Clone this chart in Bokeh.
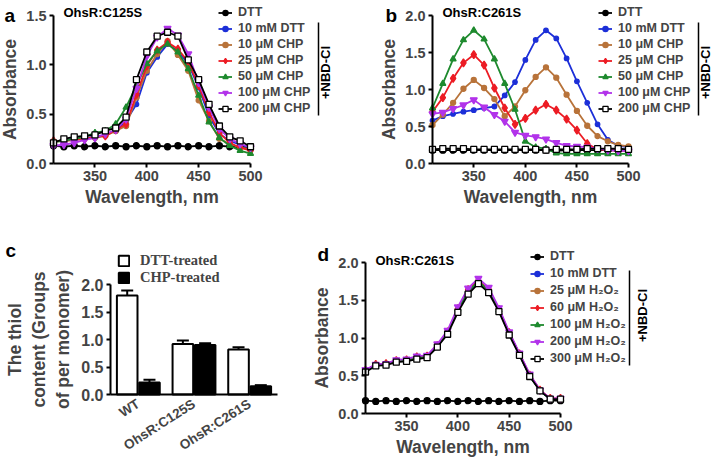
from bokeh.plotting import figure
from bokeh.models import (Range1d, FixedTicker, PrintfTickFormatter, Legend, LegendItem,
                          Label, Arrow, ColumnDataSource)
from bokeh.transform import dodge
from bokeh.layouts import row, column
from bokeh.embed import file_html
from bokeh.resources import INLINE

# ---------------- data ----------------
wavelength = [310, 320, 330, 340, 350, 360, 370, 380, 390, 400,
              410, 420, 430, 440, 450, 460, 470, 480, 490, 500]

# panel a: OhsR:C125S
a_dtt = [0.18, 0.17, 0.18, 0.17, 0.18, 0.17, 0.18, 0.17, 0.18, 0.17,
         0.18, 0.17, 0.18, 0.17, 0.18, 0.17, 0.18, 0.17, 0.17, 0.17]
a_10mm_dtt = [0.22, 0.24, 0.25, 0.26, 0.27, 0.29, 0.33, 0.43, 0.60, 0.92,
              1.08, 1.21, 1.14, 1.01, 0.77, 0.48, 0.30, 0.23, 0.19, 0.16]
a_10_chp = [0.22, 0.23, 0.24, 0.25, 0.26, 0.28, 0.33, 0.38, 0.67, 0.94,
            1.11, 1.24, 1.10, 0.94, 0.64, 0.43, 0.25, 0.20, 0.16, 0.14]
a_25_chp = [0.23, 0.23, 0.24, 0.25, 0.27, 0.28, 0.34, 0.40, 0.70, 0.99,
            1.15, 1.23, 1.16, 1.03, 0.79, 0.52, 0.31, 0.21, 0.16, 0.13]
a_50_chp = [0.22, 0.23, 0.25, 0.27, 0.31, 0.33, 0.40, 0.57, 0.79, 1.01,
            1.14, 1.21, 1.13, 0.96, 0.69, 0.42, 0.26, 0.18, 0.13, 0.10]
a_100_chp = [0.18, 0.19, 0.21, 0.24, 0.26, 0.30, 0.34, 0.45, 0.76, 1.09,
             1.28, 1.37, 1.30, 1.11, 0.82, 0.57, 0.35, 0.25, 0.20, 0.16]
a_200_chp = [0.21, 0.25, 0.27, 0.28, 0.29, 0.33, 0.36, 0.47, 0.85, 1.13,
             1.29, 1.33, 1.29, 1.05, 0.85, 0.60, 0.38, 0.27, 0.23, 0.17]

# panel b: OhsR:C261S (CHP)
b_dtt = [0.18, 0.18, 0.18, 0.18, 0.18, 0.18, 0.18, 0.18, 0.18, 0.18,
         0.18, 0.18, 0.17, 0.18, 0.18, 0.18, 0.18, 0.18, 0.18, 0.18]
b_10mm_dtt = [0.58, 0.64, 0.67, 0.70, 0.72, 0.75, 0.77, 0.92, 1.10, 1.40,
              1.67, 1.80, 1.69, 1.42, 1.11, 0.82, 0.53, 0.32, 0.24, 0.22]
b_10_chp = [0.52, 0.66, 0.82, 1.01, 1.13, 1.02, 0.87, 0.64, 0.77, 0.99,
            1.17, 1.30, 1.16, 0.93, 0.71, 0.51, 0.37, 0.30, 0.25, 0.23]
b_25_chp = [0.70, 0.89, 1.15, 1.36, 1.47, 1.33, 1.02, 0.75, 0.53, 0.61,
            0.72, 0.80, 0.72, 0.60, 0.45, 0.27, 0.19, 0.18, 0.17, 0.17]
b_50_chp = [0.75, 1.08, 1.41, 1.67, 1.80, 1.68, 1.41, 1.08, 0.73, 0.30,
            0.22, 0.20, 0.14, 0.13, 0.13, 0.13, 0.13, 0.13, 0.13, 0.13]
b_100_chp = [0.67, 0.69, 0.74, 0.79, 0.86, 0.76, 0.66, 0.57, 0.42, 0.38,
             0.36, 0.33, 0.28, 0.24, 0.23, 0.22, 0.20, 0.18, 0.17, 0.17]
b_200_chp = [0.19, 0.20, 0.20, 0.20, 0.19, 0.19, 0.19, 0.19, 0.19, 0.19,
             0.19, 0.18, 0.19, 0.19, 0.19, 0.20, 0.20, 0.20, 0.20, 0.19]

# panel d: OhsR:C261S (H2O2)
d_dtt = [0.17, 0.16, 0.17, 0.16, 0.17, 0.16, 0.17, 0.16, 0.17, 0.16,
         0.17, 0.16, 0.17, 0.16, 0.17, 0.16, 0.17, 0.16, 0.17, 0.17]
d_10mm_dtt = [0.56, 0.64, 0.65, 0.69, 0.70, 0.73, 0.75, 0.89, 1.07, 1.37,
              1.61, 1.74, 1.62, 1.37, 1.06, 0.78, 0.50, 0.30, 0.19, 0.19]
d_25_h2o2 = [0.57, 0.64, 0.65, 0.70, 0.71, 0.74, 0.76, 0.90, 1.08, 1.38,
             1.63, 1.75, 1.63, 1.38, 1.06, 0.79, 0.51, 0.31, 0.20, 0.19]
d_60_h2o2 = [0.57, 0.65, 0.66, 0.70, 0.71, 0.75, 0.76, 0.90, 1.08, 1.39,
             1.64, 1.76, 1.64, 1.38, 1.07, 0.79, 0.51, 0.31, 0.20, 0.20]
d_100_h2o2 = [0.56, 0.64, 0.65, 0.69, 0.70, 0.74, 0.75, 0.89, 1.07, 1.38,
              1.62, 1.75, 1.63, 1.37, 1.06, 0.78, 0.50, 0.30, 0.19, 0.19]
d_200_h2o2 = [0.58, 0.65, 0.66, 0.71, 0.72, 0.76, 0.77, 0.92, 1.10, 1.41,
              1.66, 1.79, 1.67, 1.40, 1.08, 0.80, 0.52, 0.31, 0.20, 0.20]
d_300_h2o2 = [0.55, 0.63, 0.64, 0.68, 0.69, 0.72, 0.74, 0.88, 1.05, 1.34,
              1.58, 1.72, 1.60, 1.35, 1.04, 0.77, 0.49, 0.30, 0.19, 0.19]

# panel c: thiol content
groups = ["WT", "OhsR:C125S", "OhsR:C261S"]
dtt_mean = [1.80, 0.92, 0.82]
dtt_err = [0.09, 0.06, 0.04]
chp_mean = [0.22, 0.90, 0.15]
chp_err = [0.05, 0.03, 0.02]

labels_chp = ["DTT", "10 mM DTT", "10 μM CHP", "25 μM CHP", "50 μM CHP", "100 μM CHP", "200 μM CHP"]
labels_h2o2 = ["DTT", "10 mM DTT", "25 μM H₂O₂", "60 μM H₂O₂", "100 μM H₂O₂", "200 μM H₂O₂", "300 μM H₂O₂"]
wl_ticks = [350, 400, 450, 500]

# ---------------- styling ----------------
FONT = "Liberation Sans"
BLACK = "#000000"
BLUE = "#1c2fd8"
BROWN = "#b8733a"
RED = "#ec1c24"
GREEN = "#1e8a2e"
MAGENTA = "#b233ea"

styles = [  # color, marker, size, fill
    (BLACK, "circle", 6, BLACK),
    (BLUE, "circle", 4.5, BLUE),
    (BROWN, "circle", 5, BROWN),
    (RED, "diamond", 8, RED),
    (GREEN, "triangle", 6, GREEN),
    (MAGENTA, "inverted_triangle", 7, MAGENTA),
    (BLACK, "square", 6, "white"),
]


class Frame:
    """Maps the data area (placed at pixel box L,T,fw,fh inside a WxH figure) to ranges
    that make the plotting frame cover the whole figure."""

    def __init__(self, W, H, L, fw, T, fh, x0, x1, y0, y1):
        self.W, self.H = W, H
        self.kx = (x1 - x0) / fw
        self.ky = (y1 - y0) / fh
        self.xs = x0 - L * self.kx
        self.xe = x1 + (W - L - fw) * self.kx
        self.ye = y1 + T * self.ky
        self.ys = y0 - (H - T - fh) * self.ky
        self.x0, self.x1, self.y0, self.y1 = x0, x1, y0, y1

    def X(self, px):
        return self.xs + px * self.kx

    def Y(self, py):
        return self.ye - py * self.ky

    def figure(self):
        p = figure(width=self.W, height=self.H,
                   x_range=Range1d(self.xs, self.xe), y_range=Range1d(self.ys, self.ye),
                   output_backend="svg", toolbar_location=None,
                   min_border=0, min_border_left=0, min_border_right=0,
                   min_border_top=0, min_border_bottom=0)
        p.outline_line_color = None
        p.xgrid.grid_line_color = None
        p.ygrid.grid_line_color = None
        p.xaxis.fixed_location = self.y0
        p.yaxis.fixed_location = self.x0
        p.xaxis.bounds = (self.x0, self.x1)
        p.yaxis.bounds = (self.y0, self.y1)
        for ax in p.axis:
            ax.axis_line_width = 2
            ax.major_tick_line_width = 2
            ax.major_tick_out = 4
            ax.major_tick_in = 0
            ax.minor_tick_line_color = None
            ax.major_label_text_font = FONT
            ax.major_label_text_font_style = "bold"
            ax.major_label_text_font_size = "14.5px"
            ax.major_label_standoff = 3
            ax.axis_label_text_font = FONT
            ax.axis_label_text_font_style = "bold"
            ax.axis_label_text_font_size = "17.5px"
            ax.axis_label_standoff = 3
        return p


def text_label(p, fr, px, py, text, size, angle=0.0, align="left", baseline="alphabetic", font=FONT):
    p.add_layout(Label(x=fr.X(px), y=fr.Y(py), text=text, angle=angle,
                       text_font=font, text_font_style="bold", text_font_size=size,
                       text_align=align, text_baseline=baseline, text_color=BLACK))


def spectrum(fr, yticks, series, labels, title, title_pos, letter, letter_pos, leg_pos, pitch, vline, nbd):
    p = fr.figure()
    p.xaxis.axis_label = "Wavelength, nm"
    p.yaxis.axis_label = "Absorbance"
    p.xaxis.ticker = FixedTicker(ticks=wl_ticks)
    p.yaxis.ticker = FixedTicker(ticks=yticks)
    p.yaxis.formatter = PrintfTickFormatter(format="%.1f")

    items = []
    for ys, lab, (col, mk, sz, fill) in zip(series, labels, styles):
        r1 = p.line(wavelength, ys, line_color=col, line_width=1.8)
        r2 = p.scatter(wavelength, ys, marker=mk, size=sz, line_color=col, fill_color=fill, line_width=1.3)
        items.append(LegendItem(label=lab, renderers=[r1, r2]))
    leg = Legend(items=items, location=(leg_pos[0], fr.H - leg_pos[1]), margin=0, padding=0,
                 spacing=pitch - 14, glyph_width=14, glyph_height=13, label_height=13,
                 label_standoff=6, border_line_color=None, background_fill_alpha=0,
                 label_text_font=FONT, label_text_font_style="bold", label_text_font_size="12.5px")
    p.add_layout(leg)

    # bracket line for the +NBD-Cl group
    p.add_layout(Arrow(end=None, x_start=fr.X(vline[0]), y_start=fr.Y(vline[1]),
                       x_end=fr.X(vline[0]), y_end=fr.Y(vline[2]), line_color=BLACK, line_width=1.5))
    text_label(p, fr, nbd[0], nbd[1], "+NBD-Cl", "13px", angle=1.5708, align="center", baseline="middle")
    text_label(p, fr, title_pos[0], title_pos[1], title, "13px")
    text_label(p, fr, letter_pos[0], letter_pos[1], letter, "19px")
    return p


fa = Frame(357, 230, 53, 197, 15, 148, 310, 500, 0, 1.5)
pa = spectrum(fa, [0, 0.5, 1.0, 1.5],
              [a_dtt, a_10mm_dtt, a_10_chp, a_25_chp, a_50_chp, a_100_chp, a_200_chp],
              labels_chp, "OhsR:C125S", (63, 12), "a", (4, 15), (218, 115), 16,
              (318, 22, 115), (325, 72))

fb = Frame(357, 230, 75, 196, 15, 148, 310, 500, 0, 2.0)
pb = spectrum(fb, [0, 0.5, 1.0, 1.5, 2.0],
              [b_dtt, b_10mm_dtt, b_10_chp, b_25_chp, b_50_chp, b_100_chp, b_200_chp],
              labels_chp, "OhsR:C261S", (85, 12), "b", (28, 15), (241, 115), 16,
              (341, 22, 115), (348, 72))

fd = Frame(414, 228, 65, 195, 32, 151, 310, 500, 0, 2.0)
pd = spectrum(fd, [0, 0.5, 1.0, 1.5, 2.0],
              [d_dtt, d_10mm_dtt, d_25_h2o2, d_60_h2o2, d_100_h2o2, d_200_h2o2, d_300_h2o2],
              labels_h2o2, "OhsR:C261S", (75, 30), "d", (17, 24), (230, 135), 17,
              (329, 40, 135), (342, 85))

# ---------------- panel c ----------------
fc = Frame(300, 228, 110, 167, 54, 110, 0, len(groups), 0, 2.0)
pc = fc.figure()
pc.yaxis.axis_label = "The thiol\ncontent (Groups\nof per monomer)"
pc.yaxis.ticker = FixedTicker(ticks=[0, 0.5, 1.0, 1.5, 2.0])
pc.yaxis.formatter = PrintfTickFormatter(format="%.1f")
pc.yaxis.major_label_text_font_size = "16px"
pc.yaxis.axis_label_standoff = 5
pos = [i + 0.5 for i in range(len(groups))]
pc.xaxis.ticker = FixedTicker(ticks=pos)
pc.xaxis.major_label_overrides = {p_: g for p_, g in zip(pos, groups)}
pc.xaxis.major_tick_line_color = None
pc.xaxis.major_label_orientation = 0.57
pc.xaxis.major_label_text_font_size = "13.5px"
pc.xaxis.major_label_text_align = "center"
pc.xaxis.major_label_standoff = 4

src = ColumnDataSource(dict(
    pos=pos, dtt=dtt_mean, chp=chp_mean,
    dtt_hi=[m + e for m, e in zip(dtt_mean, dtt_err)],
    chp_hi=[m + e for m, e in zip(chp_mean, chp_err)]))
xd = dodge("pos", -0.2)
xc = dodge("pos", 0.2)
r_dtt = pc.vbar(x=xd, top="dtt", bottom=0, width=0.37, source=src, fill_color="white",
                line_color=BLACK, line_width=2)
r_chp = pc.vbar(x=xc, top="chp", bottom=0, width=0.37, source=src, fill_color=BLACK,
                line_color=BLACK, line_width=2)
pc.segment(x0=xd, y0="dtt", x1=xd, y1="dtt_hi", source=src, line_color=BLACK, line_width=2)
pc.segment(x0=xc, y0="chp", x1=xc, y1="chp_hi", source=src, line_color=BLACK, line_width=2)
pc.scatter(x=xd, y="dtt_hi", marker="dash", size=12, source=src, line_color=BLACK, line_width=2)
pc.scatter(x=xc, y="chp_hi", marker="dash", size=12, source=src, line_color=BLACK, line_width=2)

leg_c = Legend(items=[LegendItem(label="DTT-treated", renderers=[r_dtt]),
                      LegendItem(label="CHP-treated", renderers=[r_chp])],
               location=(117, 228 - 56), margin=0, padding=0, spacing=0,
               glyph_width=13, glyph_height=13, label_height=13, label_standoff=10,
               border_line_color=None, background_fill_alpha=0,
               label_text_font="Liberation Serif", label_text_font_style="bold",
               label_text_font_size="14.5px")
pc.add_layout(leg_c)
text_label(pc, fc, 5, 20, "c", "19px")

layout = column(row(pa, pb), row(pc, pd))
open("out.html", "w").write(file_html(layout, INLINE))
